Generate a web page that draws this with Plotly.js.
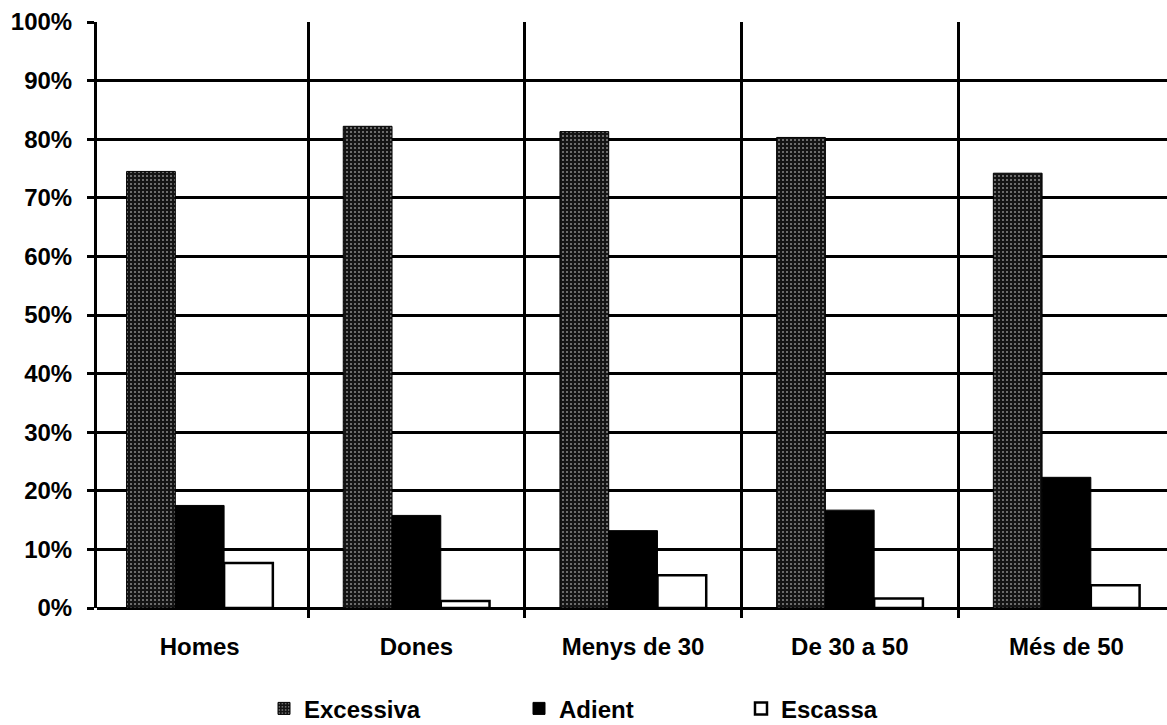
<!DOCTYPE html>
<html>
<head>
<meta charset="utf-8">
<script src="https://cdn.plot.ly/plotly-3.0.1.min.js"></script>
<style>html,body{margin:0;padding:0;background:#fff;}#chart{width:1167px;height:725px;}</style>
</head>
<body>
<div id="chart"></div>
<script>
const categories = ["Homes", "Dones", "Menys de 30", "De 30 a 50", "Més de 50"];
const seriesNames = ["Excessiva", "Adient", "Escassa"];
const excessiva = [0.745, 0.822, 0.813, 0.803, 0.742];
const adient = [0.175, 0.158, 0.132, 0.167, 0.223];
const escassa = [0.077, 0.012, 0.056, 0.016, 0.039];
const yTickVals = [0, 0.1, 0.2, 0.3, 0.4, 0.5, 0.6, 0.7, 0.8, 0.9, 1.0];
const yTickText = ["0%", "10%", "20%", "30%", "40%", "50%", "60%", "70%", "80%", "90%", "100%"];

const fam = "Liberation Sans, Arial, sans-serif";
const boldFont = {family: fam, size: 24, color: "#000", weight: "bold"};

const traces = [
  {type: "bar", name: seriesNames[0], x: categories, y: excessiva, legend: "legend",
   marker: {color: "#1c1c1c", line: {color: "#000", width: 1},
            pattern: {shape: ".", fgcolor: "#8a8a8a", bgcolor: "#141414", size: 4, solidity: 0.2}}},
  {type: "bar", name: seriesNames[1], x: categories, y: adient, legend: "legend2",
   marker: {color: "#000", line: {color: "#000", width: 1}}},
  {type: "bar", name: seriesNames[2], x: categories, y: escassa, legend: "legend3",
   marker: {color: "#fff", line: {color: "#000", width: 2.5}}}
];

function leg(px) {
  return {orientation: "h", x: (px - 97) / 1070, xanchor: "left", xref: "paper",
          y: -0.172, yanchor: "middle", yref: "paper",
          font: boldFont, bgcolor: "rgba(0,0,0,0)", borderwidth: 0,
          itemwidth: 30};
}

const layout = {
  width: 1167, height: 725,
  margin: {l: 97, r: 0, t: 22, b: 117, autoexpand: false},
  paper_bgcolor: "#fff", plot_bgcolor: "#fff",
  font: {family: fam, size: 24, color: "#000"},
  barmode: "group", bargap: 0.325, bargroupgap: 0,
  xaxis: {type: "category", range: [-0.474, 4.464], tickson: "boundaries",
          showgrid: true, gridcolor: "#000", gridwidth: 3,
          ticks: "outside", ticklen: 9, tickwidth: 3, tickcolor: "#000",
          ticklabelstandoff: 22,
          showline: false, zeroline: false, automargin: false,
          tickfont: boldFont},
  yaxis: {range: [0, 1], tickvals: yTickVals, ticktext: yTickText,
          showgrid: true, gridcolor: "#000", gridwidth: 3,
          showline: true, linecolor: "#000", linewidth: 3,
          ticks: "outside", ticklen: 7, tickwidth: 3, tickcolor: "#000",
          ticklabelstandoff: 10, automargin: false,
          zeroline: true, zerolinecolor: "#000", zerolinewidth: 3,
          tickfont: boldFont},
  showlegend: true,
  legend: leg(264),
  legend2: leg(519),
  legend3: leg(741)
};

Plotly.newPlot("chart", traces, layout, {displayModeBar: false, staticPlot: true});
</script>
</body>
</html>
